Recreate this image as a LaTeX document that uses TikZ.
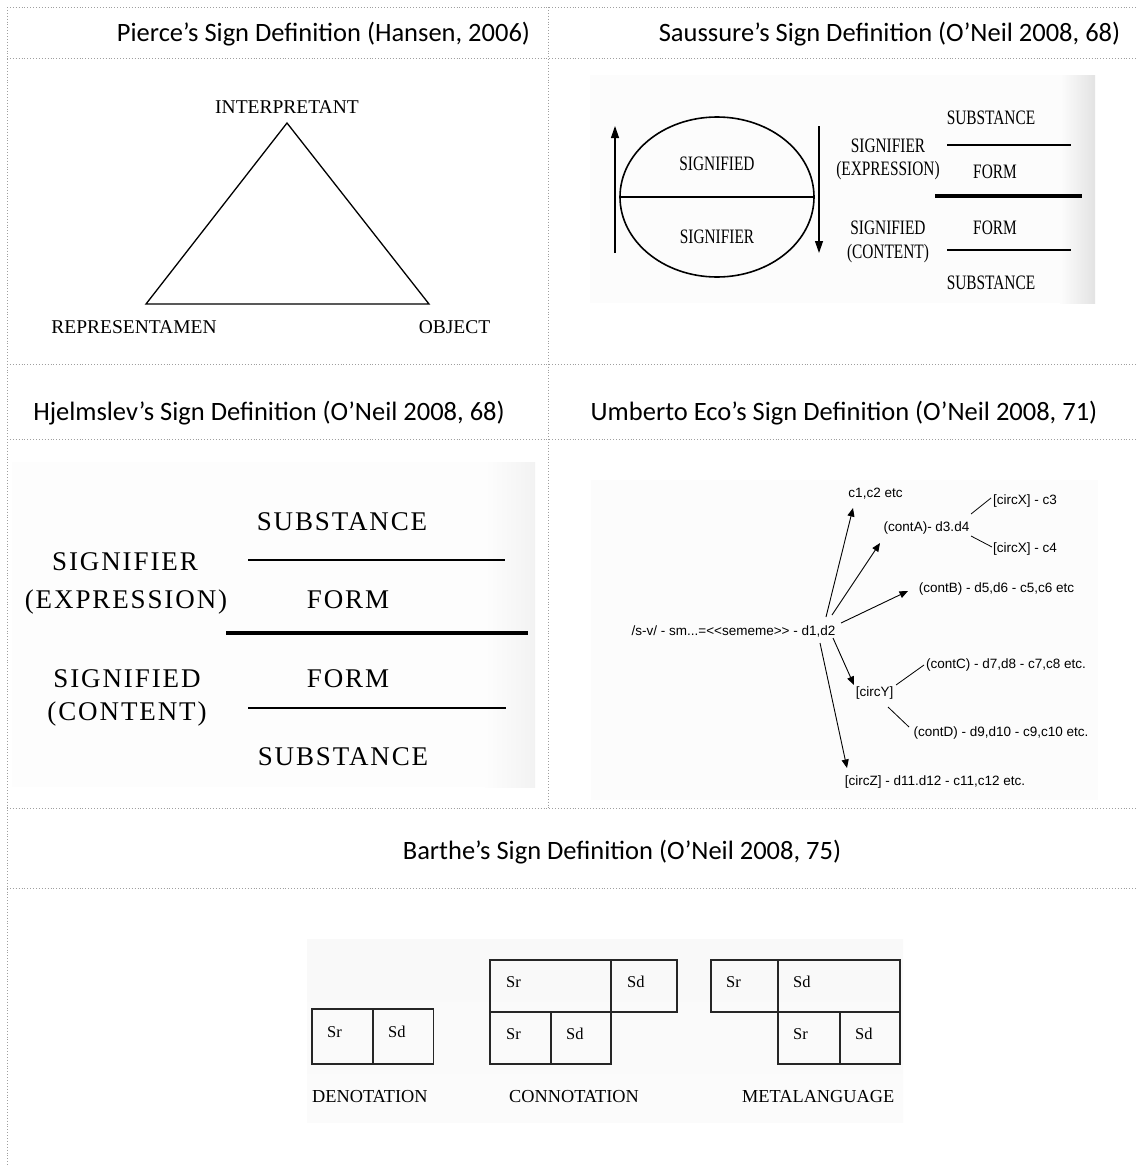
\documentclass[tikz,border=0pt]{standalone}
\usepackage{fontspec}
\setmainfont{Liberation Serif}
\newfontfamily\hdfont{Carlito}
\newfontfamily\ecofont{Liberation Sans}
\newfontfamily\condfont[FakeStretch=0.75]{Liberation Serif}
\newfontfamily\widefont[LetterSpace=7]{Liberation Serif}
\usetikzlibrary{arrows.meta,shapes.geometric}
\tikzset{
  grid/.style={gray!75, line width=0.7pt, dash pattern=on 0.9pt off 2pt},
  hdr/.style={font=\hdfont\fontsize{26.5}{30}\selectfont, inner sep=0, anchor=base},
  pier/.style={font=\fontsize{19.5}{22}\selectfont, inner sep=0, anchor=base},
  sau/.style={font=\condfont\fontsize{20.5}{24}\selectfont, inner sep=0, anchor=base},
  hje/.style={font=\widefont\fontsize{27}{30}\selectfont, inner sep=0, anchor=base},
  eco/.style={font=\ecofont\fontsize{13.5}{16}\selectfont, inner sep=0, text height=0.72em, text depth=0pt},
  ecoarrow/.style={line width=0.9pt, -{Triangle[length=8.5pt,width=7pt]}},
  ecoline/.style={line width=0.8pt},
  bar/.style={font=\fontsize{16.5}{19}\selectfont, inner sep=0, anchor=base west},
  barlab/.style={font=\fontsize{18.3}{21}\selectfont, inner sep=0, anchor=base west},
  barbox/.style={line width=1.4pt, black!85},
}
\begin{document}
\begin{tikzpicture}[x=1pt,y=-1pt]
\useasboundingbox (0,0) rectangle (1137,1167);
\fill[white] (0,0) rectangle (1137,1167);

% faint scanned-image backgrounds
\fill[gray!2] (590,75) rectangle (1060,303);
\shade[left color=gray!2, right color=gray!22] (1060,75) rectangle (1095,303);
\fill[gray!1.5] (12,462) rectangle (485,787);
\shade[left color=gray!1.5, right color=gray!10] (485,462) rectangle (535,787);
\fill[gray!2] (591,480) rectangle (1098,800);
\shade[top color=gray!5, bottom color=gray!3] (307,939) rectangle (903,1122);

% grid
\foreach \yy in {7,58,364,439,808,888} \draw[grid] (7,\yy) -- (1137,\yy);
\draw[grid] (7,7) -- (7,1167);
\draw[grid] (548,7) -- (548,808);

% headers
\node[hdr] (h1) at (323.5,41) {Pierce’s Sign Definition (Hansen, 2006)};
\node[hdr] (h2) at (889.5,41) {Saussure’s Sign Definition (O’Neil 2008, 68)};
\node[hdr] (h3) at (269,420) {Hjelmslev’s Sign Definition (O’Neil 2008, 68)};
\node[hdr] (h4) at (844,420) {Umberto Eco’s Sign Definition (O’Neil 2008, 71)};
\node[hdr] (h5) at (622,859) {Barthe’s Sign Definition (O’Neil 2008, 75)};

% Pierce
\node[pier] (interp) at (287,113) {INTERPRETANT};
\node[pier] (repr) at (134,333) {REPRESENTAMEN};
\node[pier] (obj) at (454.5,333) {OBJECT};
\coordinate (apex) at (287,123);
\coordinate (bl) at (146,304);
\coordinate (br) at (429,304);
\draw[line width=1.3pt, line join=miter] (apex) -- (br) -- (bl) -- cycle;

% Saussure
\node[draw, line width=1.6pt, ellipse, minimum width=194pt, minimum height=160pt, inner sep=0] (ell) at (717,197) {};
\draw[line width=1.6pt] (ell.west) -- (ell.east);
\node[sau] (sd1) at (717,170) {SIGNIFIED};
\node[sau] (sr1) at (717,243) {SIGNIFIER};
\coordinate (lu0) at (615,253); \coordinate (lu1) at (615,126);
\coordinate (rd0) at (819,126); \coordinate (rd1) at (819,253);
\draw[line width=1.2pt, -{Triangle[length=12pt,width=8pt]}] (lu0) -- (lu1);
\draw[line width=1.2pt, -{Triangle[length=12pt,width=8pt]}] (rd0) -- (rd1);
\node[sau] (ssr) at (888,152) {SIGNIFIER};
\node[sau] (sexp) at (888,175) {(EXPRESSION)};
\node[sau] (ssd) at (888,234) {SIGNIFIED};
\node[sau] (scon) at (888,258) {(CONTENT)};
\node[sau] (ssub1) at (991,124) {SUBSTANCE};
\node[sau] (sform1) at (995,178) {FORM};
\node[sau] (sform2) at (995,234) {FORM};
\node[sau] (ssub2) at (991,289) {SUBSTANCE};
\draw[line width=1.8pt] (947,145) -- (1071,145);
\draw[line width=3.2pt] (935,196) -- (1082,196);
\draw[line width=1.8pt] (947,250) -- (1071,250);

% Hjelmslev
\node[hje] (hsub1) at (342,530) {SUBSTANCE};
\node[hje] (hsr) at (125,570) {SIGNIFIER};
\node[hje] (hexp) at (126,608) {(EXPRESSION)};
\node[hje] (hform1) at (348,608) {FORM};
\node[hje] (hsd) at (127,687) {SIGNIFIED};
\node[hje] (hform2) at (348,687) {FORM};
\node[hje] (hcon) at (127,720) {(CONTENT)};
\node[hje] (hsub2) at (343,765) {SUBSTANCE};
\draw[line width=2.2pt] (248,560) -- (505,560);
\draw[line width=4.2pt] (226,633) -- (528,633);
\draw[line width=2.2pt] (248,708) -- (506,708);

% Umberto Eco
\node[eco] (root) at (733.5,632) {/s-v/ - sm...=<<sememe>> - d1,d2};
\node[eco] (c12) at (875.5,494) {c1,c2 etc};
\node[eco] (contA) at (926.5,528) {(contA)- d3.d4};
\node[eco] (cx3) at (1025,501) {[circX] - c3};
\node[eco] (cx4) at (1025,549) {[circX] - c4};
\node[eco] (contB) at (996.5,589) {(contB) - d5,d6 - c5,c6 etc};
\node[eco] (contC) at (1006,665) {(contC) - d7,d8 - c7,c8 etc.};
\node[eco] (circY) at (874.5,693) {[circY]};
\node[eco] (contD) at (1001,733) {(contD) - d9,d10 - c9,c10 etc.};
\node[eco] (circZ) at (935,782) {[circZ] - d11.d12 - c11,c12 etc.};
\coordinate (a1s) at (826,617); \coordinate (a1e) at (853,508);
\coordinate (a2s) at (832,615); \coordinate (a2e) at (880,543);
\coordinate (a3s) at (841,623); \coordinate (a3e) at (908,591);
\coordinate (a4s) at (833,638); \coordinate (a4e) at (854,685);
\coordinate (a5s) at (820,643); \coordinate (a5e) at (847,768);
\draw[ecoarrow] (a1s) -- (a1e);
\draw[ecoarrow] (a2s) -- (a2e);
\draw[ecoarrow] (a3s) -- (a3e);
\draw[ecoarrow] (a4s) -- (a4e);
\draw[ecoarrow] (a5s) -- (a5e);
\coordinate (l1s) at (971,514); \coordinate (l1e) at (991,498);
\coordinate (l2s) at (971,536); \coordinate (l2e) at (992,547);
\coordinate (l3s) at (896,685); \coordinate (l3e) at (924,665);
\coordinate (l4s) at (888,707); \coordinate (l4e) at (909,727);
\draw[ecoline] (l1s) -- (l1e);
\draw[ecoline] (l2s) -- (l2e);
\draw[ecoline] (l3s) -- (l3e);
\draw[ecoline] (l4s) -- (l4e);

% Barthe
\draw[barbox] (312,1009) rectangle (433.5,1064);
\draw[barbox] (373,1009) -- (373,1064);
\node[bar] (dsr) at (327,1037) {Sr};
\node[bar] (dsd) at (388,1037) {Sd};
\node[barlab] (den) at (312,1102) {DENOTATION};

\draw[barbox] (490,960) rectangle (677,1012);
\draw[barbox] (611,960) -- (611,1064);
\draw[barbox] (490,1012) rectangle (611,1064);
\draw[barbox] (551,1012) -- (551,1064);
\node[bar] (csr1) at (506,987) {Sr};
\node[bar] (csd1) at (627,987) {Sd};
\node[bar] (csr2) at (506,1039) {Sr};
\node[bar] (csd2) at (566,1039) {Sd};
\node[barlab] (con) at (509,1102) {CONNOTATION};

\draw[barbox] (711,960) rectangle (900,1012);
\draw[barbox] (778,960) -- (778,1064);
\draw[barbox] (778,1012) rectangle (900,1064);
\draw[barbox] (840,1012) -- (840,1064);
\node[bar] (msr1) at (726,987) {Sr};
\node[bar] (msd1) at (793,987) {Sd};
\node[bar] (msr2) at (793,1039) {Sr};
\node[bar] (msd2) at (855,1039) {Sd};
\node[barlab] (met) at (742,1102) {METALANGUAGE};
\end{tikzpicture}
\end{document}
